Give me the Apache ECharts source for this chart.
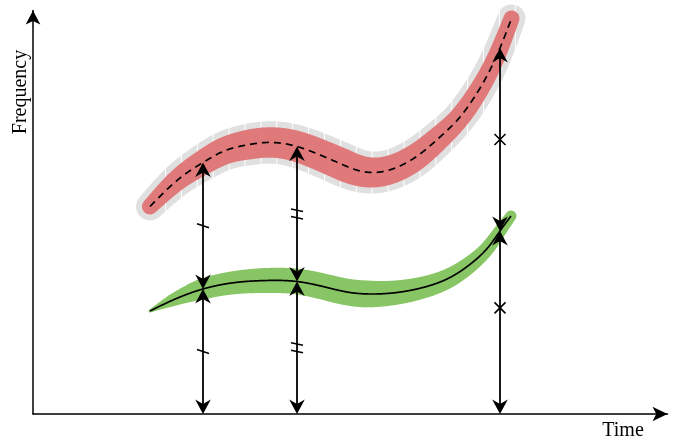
<!DOCTYPE html>
<html>
<head>
<meta charset="utf-8">
<script src="https://cdn.jsdelivr.net/npm/echarts@6/dist/echarts.min.js"></script>
<style>
  html, body { margin: 0; padding: 0; background: #fff; }
  #chart { width: 692px; height: 443px; }
</style>
</head>
<body>
<div id="chart"></div>
<script>
// Upper curve: sampled (time, frequency) points
const upperTime = [2.34, 2.94, 3.40, 3.80, 4.27, 4.67, 5.28, 5.67, 6.14, 6.47, 6.81, 7.34, 7.74, 8.14, 8.54, 8.88, 9.14, 9.34, 9.57];
const upperFreq = [4.15, 4.72, 5.03, 5.25, 5.38, 5.43, 5.35, 5.21, 5.01, 4.88, 4.83, 4.96, 5.20, 5.54, 5.94, 6.42, 6.88, 7.32, 7.91];
// Lower curve: sampled (time, frequency) points
const lowerTime = [2.34, 2.80, 3.40, 4.14, 4.68, 5.28, 5.88, 6.34, 6.74, 7.28, 7.80, 8.34, 8.80, 9.14, 9.34, 9.56];
const lowerFreq = [2.06, 2.28, 2.50, 2.64, 2.67, 2.65, 2.53, 2.43, 2.40, 2.43, 2.53, 2.73, 3.04, 3.38, 3.66, 3.96];
// Times where the vertical distances are measured, and the tick used on each
const guideTimes = [3.40, 5.28, 9.34];
const guideMarks = ['single', 'double', 'cross'];
// Where each tick sits along its arrow (lower arrow, upper arrow), as a fraction from the bottom
const guideMarkAt = [[0.5, 0.5], [0.5, 0.5], [0.58, 0.5]];
// Axis titles
const axisTitles = { x: 'Time', y: 'Frequency' };

const TIME_MAX = 12.69;
const FREQ_MAX = 8.07;

// ---------- geometry helpers ----------
// Natural cubic spline through pixel points (x increasing), sampled every `step` px
function splinePath(pts, step) {
  const n = pts.length;
  const x = pts.map(p => p[0]), y = pts.map(p => p[1]);
  const h = [];
  for (let i = 0; i < n - 1; i++) h.push(x[i + 1] - x[i]);
  const a = new Array(n).fill(0), b = new Array(n).fill(1), c = new Array(n).fill(0), d = new Array(n).fill(0);
  for (let i = 1; i < n - 1; i++) {
    a[i] = h[i - 1];
    b[i] = 2 * (h[i - 1] + h[i]);
    c[i] = h[i];
    d[i] = 6 * ((y[i + 1] - y[i]) / h[i] - (y[i] - y[i - 1]) / h[i - 1]);
  }
  const cp = new Array(n).fill(0), dp = new Array(n).fill(0);
  cp[0] = c[0] / b[0]; dp[0] = d[0] / b[0];
  for (let i = 1; i < n; i++) {
    const m = b[i] - a[i] * cp[i - 1];
    cp[i] = c[i] / m;
    dp[i] = (d[i] - a[i] * dp[i - 1]) / m;
  }
  const M = new Array(n).fill(0);
  M[n - 1] = dp[n - 1];
  for (let i = n - 2; i >= 0; i--) M[i] = dp[i] - cp[i] * M[i + 1];
  const evalAt = xv => {
    let i = 0;
    while (i < n - 2 && xv > x[i + 1]) i++;
    const hi = h[i], t1 = x[i + 1] - xv, t0 = xv - x[i];
    return M[i] * t1 * t1 * t1 / (6 * hi) + M[i + 1] * t0 * t0 * t0 / (6 * hi) +
      (y[i] / hi - M[i] * hi / 6) * t1 + (y[i + 1] / hi - M[i + 1] * hi / 6) * t0;
  };
  const out = [];
  for (let xv = x[0]; xv < x[n - 1]; xv += step) out.push([xv, evalAt(xv)]);
  out.push([x[n - 1], y[n - 1]]);
  return out;
}

// Half-width of a stroke along its length (t from 0 to 1), linear between stops
function widthProfile(stops) {
  return function (t) {
    for (let i = 0; i < stops.length - 1; i++) {
      const a = stops[i], b = stops[i + 1];
      if (t <= b[0]) return a[1] + (b[1] - a[1]) * (t - a[0]) / (b[0] - a[0]);
    }
    return stops[stops.length - 1][1];
  };
}

// Closed outline of a stroke with varying half-width and round caps
function outline(path, halfWidth, extra) {
  const n = path.length;
  const len = [0];
  for (let i = 1; i < n; i++) {
    len.push(len[i - 1] + Math.hypot(path[i][0] - path[i - 1][0], path[i][1] - path[i - 1][1]));
  }
  const total = len[n - 1];
  const tang = [], left = [], right = [], hws = [];
  for (let i = 0; i < n; i++) {
    const a = path[Math.max(i - 1, 0)], b = path[Math.min(i + 1, n - 1)];
    let tx = b[0] - a[0], ty = b[1] - a[1];
    const m = Math.hypot(tx, ty) || 1;
    tx /= m; ty /= m;
    tang.push([tx, ty]);
    const nx = -ty, ny = tx;
    const hw = halfWidth(len[i] / total) + extra;
    hws.push(hw);
    left.push([path[i][0] + nx * hw, path[i][1] + ny * hw]);
    right.push([path[i][0] - nx * hw, path[i][1] - ny * hw]);
  }
  const pts = left.slice();
  const cap = (p, t, hw, sign) => {
    const nx = -t[1], ny = t[0];
    for (let k = 1; k < 16; k++) {
      const a = k / 16 * Math.PI;
      const dx = sign * (nx * Math.cos(a) + t[0] * Math.sin(a));
      const dy = sign * (ny * Math.cos(a) + t[1] * Math.sin(a));
      pts.push([p[0] + dx * hw, p[1] + dy * hw]);
    }
  };
  cap(path[n - 1], tang[n - 1], hws[n - 1], 1);
  for (let i = n - 1; i >= 0; i--) pts.push(right[i]);
  cap(path[0], tang[0], hws[0], -1);
  return pts;
}

function verticalSpan(poly, x) {
  let lo = Infinity, hi = -Infinity;
  for (let i = 0; i < poly.length; i++) {
    const a = poly[i], b = poly[(i + 1) % poly.length];
    if ((a[0] - x) * (b[0] - x) <= 0 && a[0] !== b[0]) {
      const y = a[1] + (x - a[0]) / (b[0] - a[0]) * (b[1] - a[1]);
      lo = Math.min(lo, y); hi = Math.max(hi, y);
    }
  }
  return lo < hi ? [lo, hi] : null;
}

const upperWidth = widthProfile([[0, 8], [0.13, 12], [0.26, 15], [0.47, 16], [0.62, 13.5], [0.75, 10.5], [1, 8]]);
const lowerWidth = widthProfile([[0, 1.5], [0.06, 6], [0.14, 10.5], [0.3, 12.5], [0.56, 13.5], [0.76, 10], [0.88, 7.5], [1, 5.5]]);

function valueAt(times, values, t) {
  return values[times.indexOf(t)];
}

// ---------- series renderers ----------
function renderUpper(params, api) {
  if (params.dataIndex !== 0) return null;
  const pts = upperTime.map((t, i) => api.coord([t, upperFreq[i]]));
  const path = splinePath(pts, 0.5);
  const halo = outline(path, upperWidth, 6);
  const band = outline(path, upperWidth, 0);
  const children = [{ type: 'polygon', shape: { points: halo }, style: { fill: '#e0e0e0' } }];
  const x0 = pts[0][0], x1 = pts[pts.length - 1][0] + 20;
  for (let x = x0 + 15.5; x < x1; x += 15.9) {
    const span = verticalSpan(halo, x);
    if (span) {
      children.push({
        type: 'line',
        shape: { x1: x, y1: span[0] - 1, x2: x, y2: span[1] + 1 },
        style: { stroke: '#ffffff', lineWidth: 1 }
      });
    }
  }
  children.push({ type: 'polygon', shape: { points: band }, style: { fill: '#e07a7a' } });
  children.push({
    type: 'polyline', shape: { points: path },
    style: { stroke: '#000', lineWidth: 1.7, lineDash: [7, 5], fill: 'none' }
  });
  return { type: 'group', children };
}

function renderLower(params, api) {
  if (params.dataIndex !== 0) return null;
  const pts = lowerTime.map((t, i) => api.coord([t, lowerFreq[i]]));
  const path = splinePath(pts, 0.5);
  const band = outline(path, lowerWidth, 0);
  return {
    type: 'group',
    children: [
      { type: 'polygon', shape: { points: band }, style: { fill: '#88c665' } },
      { type: 'polyline', shape: { points: path }, style: { stroke: '#000', lineWidth: 1.7, fill: 'none' } }
    ]
  };
}

const HEAD_LEN = 14.5, HEAD_HW = 7.8, HEAD_NOTCH = 4.5;

function arrowHead(tip, dir) {
  const nx = -dir[1], ny = dir[0];
  const bx = tip[0] - dir[0] * HEAD_LEN, by = tip[1] - dir[1] * HEAD_LEN;
  return {
    type: 'polygon',
    shape: {
      points: [
        tip,
        [bx + nx * HEAD_HW, by + ny * HEAD_HW],
        [tip[0] - dir[0] * (HEAD_LEN - HEAD_NOTCH), tip[1] - dir[1] * (HEAD_LEN - HEAD_NOTCH)],
        [bx - nx * HEAD_HW, by - ny * HEAD_HW]
      ]
    },
    style: { fill: '#000' }
  };
}

function doubleArrow(a, b, out) {
  const dx = b[0] - a[0], dy = b[1] - a[1];
  const m = Math.hypot(dx, dy);
  const d = [dx / m, dy / m];
  const back = HEAD_LEN - HEAD_NOTCH;
  out.push({
    type: 'line',
    shape: { x1: a[0] + d[0] * back, y1: a[1] + d[1] * back, x2: b[0] - d[0] * back, y2: b[1] - d[1] * back },
    style: { stroke: '#000', lineWidth: 1.8 }
  });
  out.push(arrowHead(a, [-d[0], -d[1]]));
  out.push(arrowHead(b, d));
}

function tickMark(kind, p, out) {
  const st = { stroke: '#000', lineWidth: 1.6 };
  const seg = (x1, y1, x2, y2) => out.push({ type: 'line', shape: { x1, y1, x2, y2 }, style: st });
  const [x, y] = p;
  if (kind === 'single') {
    seg(x - 6, y - 2, x + 6, y + 2);
  } else if (kind === 'double') {
    seg(x - 6, y - 5, x + 6, y - 2.5);
    seg(x - 6, y + 2.5, x + 6, y + 5);
  } else {
    seg(x - 5.5, y - 5.5, x + 5.5, y + 5.5);
    seg(x - 5.5, y + 5.5, x + 5.5, y - 5.5);
  }
}

function renderGuide(params, api) {
  const t = api.value(0), lo = api.value(1), hi = api.value(2);
  const base = api.coord([t, 0]);
  const mid = api.coord([t, lo]);
  const top = api.coord([t, hi]);
  const children = [];
  doubleArrow(base, mid, children);
  doubleArrow(mid, top, children);
  const kind = guideMarks[params.dataIndex];
  const at = guideMarkAt[params.dataIndex];
  tickMark(kind, [base[0], base[1] + (mid[1] - base[1]) * at[0]], children);
  tickMark(kind, [mid[0], mid[1] + (top[1] - mid[1]) * at[1]], children);
  return { type: 'group', children };
}

// ---------- chart ----------
const chart = echarts.init(document.getElementById('chart'), null, { renderer: 'canvas' });

const axisCommon = {
  type: 'value',
  min: 0,
  axisTick: { show: false },
  axisLabel: { show: false },
  splitLine: { show: false }
};

chart.setOption({
  animation: false,
  backgroundColor: '#ffffff',
  grid: { left: 33, right: 24.5, top: 10.5, bottom: 29 },
  xAxis: Object.assign({}, axisCommon, {
    max: TIME_MAX,
    axisLine: {
      show: true, onZero: false,
      symbol: ['none', 'arrow'], symbolSize: [11, 15],
      lineStyle: { color: '#000', width: 1.5 }
    }
  }),
  yAxis: Object.assign({}, axisCommon, {
    max: FREQ_MAX,
    axisLine: {
      show: true, onZero: false,
      symbol: ['none', 'arrow'], symbolSize: [11, 14],
      lineStyle: { color: '#000', width: 1.5 }
    }
  }),
  graphic: [
    {
      type: 'text', x: 623, y: 431,
      style: { text: axisTitles.x, font: '20px "Liberation Serif"', fill: '#000', textAlign: 'center', textVerticalAlign: 'middle' }
    },
    {
      type: 'text', x: 21, y: 92, rotation: Math.PI / 2,
      style: { text: axisTitles.y, font: '20px "Liberation Serif"', fill: '#000', textAlign: 'center', textVerticalAlign: 'middle' }
    }
  ],
  series: [
    {
      type: 'custom', name: 'upper',
      data: upperTime.map((t, i) => [t, upperFreq[i]]),
      encode: { x: 0, y: 1 },
      renderItem: renderUpper
    },
    {
      type: 'custom', name: 'lower',
      data: lowerTime.map((t, i) => [t, lowerFreq[i]]),
      encode: { x: 0, y: 1 },
      renderItem: renderLower
    },
    {
      type: 'custom', name: 'guides',
      data: guideTimes.map(t => [t, valueAt(lowerTime, lowerFreq, t), valueAt(upperTime, upperFreq, t)]),
      encode: { x: 0, y: [1, 2] },
      renderItem: renderGuide
    }
  ]
});
</script>
</body>
</html>
